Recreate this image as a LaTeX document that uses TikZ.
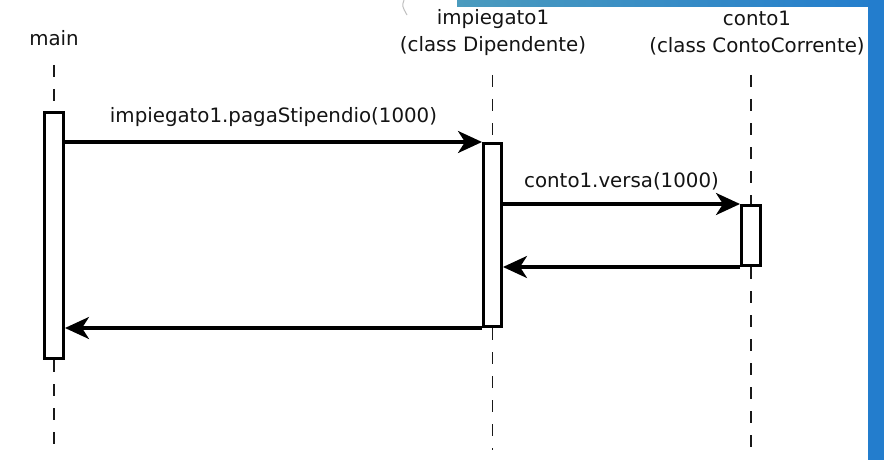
\documentclass[tikz,border=0pt]{standalone}
\usepackage{fontspec}
\setmainfont{DejaVu Sans}
\usetikzlibrary{arrows.meta}
\definecolor{barblue}{RGB}{35,125,205}
\definecolor{teal}{RGB}{75,155,190}
\begin{document}
\begin{tikzpicture}[x=1pt,y=-1pt,
  lbl/.style={font=\fontsize{19.8}{27}\selectfont, text=black!92, align=center, inner sep=0pt},
  actbox/.style={draw=black, line width=3.3pt, fill=white, minimum width=18.7pt, inner sep=0pt},
  life/.style={draw=black!90, line width=1.9pt, dash pattern=on 12pt off 12pt},
  msg/.style={draw=black, line width=3.3pt, -{Stealth[length=24pt,width=22pt,inset=7pt]}}]
\useasboundingbox (0,0) rectangle (884,460);
\fill[white] (0,0) rectangle (884,460);
\shade[left color=teal, right color=barblue] (457,0) rectangle (884,7);
\fill[barblue] (868,0) rectangle (884,460);
\draw[black!25, line width=1pt] (404,0) .. controls (402,6) .. (407,15);
% labels
\node[lbl] (mainlbl) at (54,38) {main};
\node[lbl] (implbl) at (493,33) {impiegato1\\(class Dipendente)};
\node[lbl] (contolbl) at (757,33) {conto1\\(class ContoCorrente)};
% activation boxes
\node[actbox, minimum height=245.7pt] (mainact) at (54,235.5) {};
\node[actbox, minimum width=17.7pt, minimum height=182.7pt] (impact) at (492.5,235) {};
\node[actbox, minimum height=59.7pt] (contoact) at (751,235.5) {};
% lifeline ends
\coordinate (maintop) at (54,65);
\coordinate (mainbot) at (54,446);
\coordinate (imptop) at (492.5,75);
\coordinate (impbot) at (492.5,450);
\coordinate (contotop) at (751,75);
\coordinate (contobot) at (751,450);
\draw[life] (maintop) -- (mainact.north);
\draw[life] (mainact.south) -- (mainbot);
\draw[life] (imptop) -- (impact.north);
\draw[life] (impact.south) -- (impbot);
\draw[life] (contotop) -- (contoact.north);
\draw[life] (contoact.south) -- (contobot);
% messages
\draw[msg] (mainact.east |- impact.north west) -- node[lbl, above=14pt] (m1) {impiegato1.pagaStipendio(1000)} (impact.north west);
\draw[msg] (impact.east |- contoact.north west) -- node[lbl, above=12pt] (m2) {conto1.versa(1000)} (contoact.north west);
\draw[msg] (contoact.south west) -- (impact.east |- contoact.south west);
\draw[msg] (impact.south west) -- (mainact.east |- impact.south west);
\end{tikzpicture}
\end{document}
